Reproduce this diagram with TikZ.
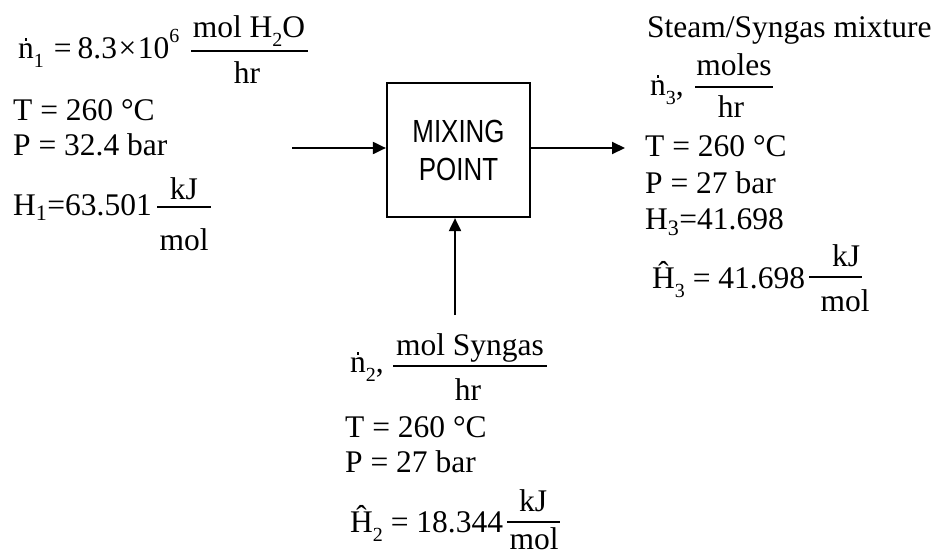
\documentclass[tikz,border=0pt]{standalone}
\usepackage{fontspec}
\usepackage{graphicx}
\setmainfont{Liberation Serif}
\newfontfamily\boxfont{Liberation Sans}
\usetikzlibrary{arrows.meta}
\newcommand\ndot{\leavevmode\rlap{\hspace{0.21em}\smash{\raisebox{0.55em}{\rule{2.6pt}{2.6pt}}}}n}
\newcommand\esub[1]{\smash{\raisebox{-0.3em}{\fontsize{20}{20}\selectfont #1}}}
\newcommand\esup[1]{\smash{\raisebox{0.48em}{\fontsize{20}{20}\selectfont #1}}}
\tikzset{
  txt/.style={font=\fontsize{31.5}{36}\selectfont, inner sep=0pt, anchor=base west},
  ctxt/.style={font=\fontsize{31.5}{36}\selectfont, inner sep=0pt, anchor=base},
  fbar/.style={line width=1.3pt},
  arr/.style={line width=2pt, -{Triangle[length=13pt,width=12pt]}},
  mixbox/.style={draw, line width=2.2pt, minimum width=143pt, minimum height=134pt,
    inner sep=0pt, align=center, font=\boxfont\fontsize{32}{38}\selectfont}
}
\begin{document}
\begin{tikzpicture}[x=1pt,y=-1pt]
\useasboundingbox (0,0) rectangle (936,555);
% mixing box
\node[mixbox] (box) at (458.5,150) {\scalebox{0.81}[1]{MIXING}\\\scalebox{0.81}[1]{POINT}};
\coordinate (in1) at (292,148);
\coordinate (out3) at (625,148);
\coordinate (in2) at (455,315);
\draw[arr] (in1) -- (in1 -| box.west);
\draw[arr] (box.east |- out3) -- (out3);
\draw[arr] (in2) -- (in2 |- box.south);
% stream 1
\node[txt] (n1) at (18,58) {\ndot\esub{1}\kern10pt=\kern6pt8.3\kern1.5pt×\kern1.5pt10\esup{6}};
\draw[fbar] (191,51) -- (308,51);
\node[ctxt] (n1num) at (249,37) {mol H\esub{2}O};
\node[ctxt] (n1den) at (247,83) {hr};
\node[txt] (t1) at (13,120) {T = 260 °C};
\node[txt] (p1) at (13,155) {P = 32.4 bar};
\node[txt] (h1) at (13,215) {H\textsubscript{1}=63.501};
\draw[fbar] (157,207) -- (211,207);
\node[ctxt] (h1num) at (184,199) {kJ};
\node[ctxt] (h1den) at (184,250) {mol};
% stream 3
\node[txt] (s3) at (647,37) {Steam/Syngas mixture};
\node[txt] (n3) at (650,95) {\ndot\esub{3},};
\draw[fbar] (695,87) -- (773,87);
\node[ctxt] (n3num) at (734,75) {moles};
\node[ctxt] (n3den) at (731,117) {hr};
\node[txt] (t3) at (645,156) {T = 260 °C};
\node[txt] (p3) at (645,193) {P = 27 bar};
\node[txt] (h3) at (645,229) {H\textsubscript{3}=41.698};
\node[txt] (hh3) at (652,288) {\^{H}\esub{3} = 41.698};
\draw[fbar] (809,277) -- (862,277);
\node[ctxt] (hh3num) at (846,266) {kJ};
\node[ctxt] (hh3den) at (845,311) {mol};
% stream 2
\node[txt] (n2) at (350,372) {\ndot\esub{2},};
\draw[fbar] (393,366) -- (547,366);
\node[ctxt] (n2num) at (470,355) {mol Syngas};
\node[ctxt] (n2den) at (468,400) {hr};
\node[txt] (t2) at (345,437) {T = 260 °C};
\node[txt] (p2) at (345,472) {P = 27 bar};
\node[txt] (hh2) at (350,532) {\^{H}\esub{2} = 18.344};
\draw[fbar] (507,522) -- (560,522);
\node[ctxt] (hh2num) at (533,511) {kJ};
\node[ctxt] (hh2den) at (534,549) {mol};
\end{tikzpicture}
\end{document}
